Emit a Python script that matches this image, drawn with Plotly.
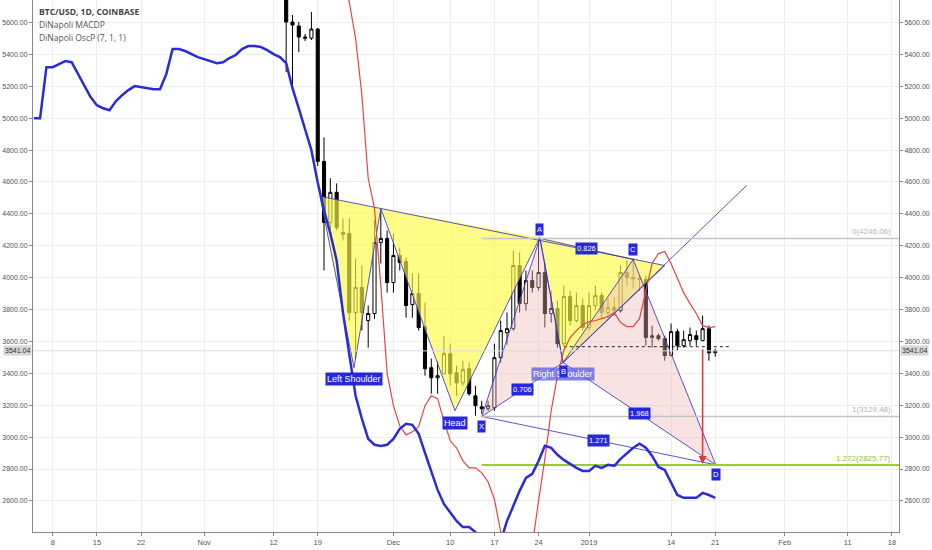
import pandas as pd
import plotly.graph_objects as go

# ---------------- data ----------------
candle_dates = pd.date_range("2018-11-14", "2019-01-21", freq="D")
opens = [6340, 5603, 5578, 5509, 5502, 5559, 4729, 4346, 4535, 4271, 4277, 3781, 3938, 3731, 3775, 4221, 4246,
         3969, 4139, 4101, 3831, 3900, 3693, 3435, 3372, 3397, 3523, 3404, 3341, 3429, 3259, 3190, 3178, 3184, 3498,
         3655, 3680, 4076, 3837, 3982, 3938, 4032, 3775, 3806, 3586, 3881, 3730, 3825,
         3687, 3825, 3888, 3781, 3812, 3793, 4032, 4001, 3995, 3988, 3624, 3636, 3617, 3511, 3661, 3573, 3605, 3636,
         3605, 3680, 3529]
highs = [6360, 5647, 5603, 5528, 5666, 5565, 4880, 4623, 4591, 4371, 4371, 4120, 4076, 3825, 4359, 4422, 4296,
         4277, 4189, 4126, 4026, 4026, 3844, 3492, 3479, 3636, 3586, 3448, 3479, 3467, 3322, 3228, 3228, 3586, 3731,
         3781, 4170, 4158, 4045, 4045, 4252, 4095, 3919, 3856, 3950, 3919, 3906, 3869,
         3906, 3950, 3906, 3869, 3875, 4076, 4108, 4120, 4013, 4013, 3699, 3649, 3636, 3712, 3680, 3668, 3687, 3668,
         3762, 3700, 3555]
lows = [5289, 5194, 5414, 5484, 5490, 4700, 4045, 4300, 4296, 4233, 3731, 3492, 3668, 3561, 3740, 4089, 3906,
        3906, 4045, 3749, 3749, 3668, 3385, 3272, 3272, 3397, 3322, 3259, 3322, 3259, 3134, 3146, 3165, 3165, 3467,
        3580, 3668, 3781, 3793, 3906, 3919, 3687, 3718, 3561, 3573, 3699, 3718, 3668,
        3668, 3793, 3743, 3743, 3762, 3781, 3950, 3938, 3919, 3573, 3561, 3605, 3479, 3511, 3542, 3561, 3573, 3573,
        3605, 3479, 3504]
closes = [5603, 5584, 5509, 5502, 5559, 4729, 4346, 4535, 4315, 4283, 3781, 3938, 3781, 3775, 4221, 4246, 3969,
          4139, 4095, 3825, 3900, 3687, 3429, 3372, 3385, 3523, 3397, 3341, 3423, 3272, 3197, 3178, 3197, 3498, 3668,
          3680, 4076, 3837, 3982, 3938, 4032, 3775, 3806, 3586, 3881, 3730, 3825, 3687,
          3825, 3888, 3781, 3812, 3793, 4032, 4001, 3995, 3988, 3624, 3636, 3617, 3511, 3661, 3573, 3611, 3643, 3611,
          3680, 3529, 3541]

osc_dates = pd.date_range("2018-10-05", "2019-01-21", freq="D")
osc_values = [5000, 5000, 5320, 5320, 5339, 5358, 5351, 5276, 5201, 5132, 5081, 5062, 5050, 5106, 5144, 5176, 5201,
              5194, 5188, 5182, 5182, 5276, 5433, 5433, 5421, 5402, 5383,
              5370, 5358, 5345, 5351, 5377, 5396, 5433, 5452, 5452, 5446, 5427, 5402, 5383, 5345, 5188, 5062, 4937,
              4799, 4597, 4422, 4277, 4108, 3781, 3511, 3259, 3115, 2989, 2952, 2945, 2952,
              2989, 3052, 3083, 3077, 3021, 2901, 2788, 2669, 2581, 2524, 2474, 2436, 2436, 2405, 2330, 2260, 2220,
              2348, 2474, 2568, 2663, 2744, 2770, 2850, 2945, 2933, 2889, 2857, 2832, 2807, 2788,
              2788, 2820, 2807, 2826, 2820, 2864, 2901, 2933, 2958, 2933, 2882, 2813, 2794, 2713, 2637, 2619, 2619,
              2619, 2650, 2637, 2619]

macd_dates = pd.date_range("2018-11-23", "2019-01-21", freq="D")
macd_values = [5867, 5728, 5502, 5144, 4623, 4434, 3950, 3400,
               3197, 3071, 3014, 3033, 3065, 3197, 3259, 3241, 3102, 2977, 2933, 2851, 2807, 2807, 2776, 2719, 2612,
               2411, 2200, 2050, 2000, 2100, 2320, 2600, 2864, 3165, 3385, 3542, 3624, 3668, 3705,
               3724, 3731, 3743, 3756, 3781, 3718, 3693, 3693, 3743, 3919, 4089, 4151, 4164, 4089, 4001, 3906, 3837,
               3775, 3699, 3687, 3693]

# head & shoulders pattern points
hs_names = ["start", "Left Shoulder", "peak1", "Head", "peak2", "Right Shoulder", "end"]
hs_dates = ["2018-11-19 09:00", "2018-11-24 18:00", "2018-11-29 00:00", "2018-12-10 18:00",
            "2018-12-24 05:00", "2018-12-27 21:00", "2019-01-13 00:00"]
hs_values = [4510, 3435, 4434, 3165, 4252, 3467, 4076]

# XABCD pattern points
xabcd_names = ["X", "A", "B", "C", "D"]
xabcd_dates = ["2018-12-15 00:00", "2018-12-24 05:00", "2018-12-27 21:00", "2019-01-08 00:00", "2019-01-21 02:00"]
xabcd_values = [3129.48, 4246.06, 3467, 4114, 2825.77]
ratio_labels = ["0.706", "0.826", "1.968", "1.271"]

fib_levels = [4246.06, 3129.48, 2825.77]
fib_labels = ["0(4246.06)", "1(3129.48)", "1.272(2825.77)"]

ray_dates = ["2018-12-27 21:00", "2019-01-26 00:00"]
ray_values = [3467, 4579]
dotted_dates = ["2018-12-28 00:00", "2019-01-23 12:00"]
dotted_value = 3567
arrow_date = "2019-01-19 00:00"
arrow_values = [3560, 2832]
last_price = 3541.04

x_tick_dates = ["2018-10-08", "2018-10-15", "2018-10-22", "2018-11-01", "2018-11-12", "2018-11-19", "2018-12-01",
                "2018-12-10", "2018-12-17", "2018-12-24", "2019-01-01", "2019-01-14", "2019-01-21", "2019-02-01",
                "2019-02-11", "2019-02-18"]
x_tick_text = ["8", "15", "22", "Nov", "12", "19", "Dec", "10", "17", "24", "2019", "14", "21", "Feb", "11", "18"]

x_range = ["2018-10-04 21:00", "2019-02-19 03:00"]
y_range = [2405, 5741]

# ---------------- figure ----------------
BLUE = "#2b2bd8"
PATTERN_LINE = "rgba(55,55,200,0.85)"
YELLOW = "rgba(250,250,70,0.65)"
PINK = "rgba(236,180,180,0.38)"
FONT = "Liberation Sans, Arial, sans-serif"

fig = go.Figure()

# yellow H&S triangles
for tri in ([0, 1, 2], [2, 3, 4], [4, 5, 6]):
    fig.add_trace(go.Scatter(
        x=[hs_dates[i] for i in tri] + [hs_dates[tri[0]]],
        y=[hs_values[i] for i in tri] + [hs_values[tri[0]]],
        mode="none", fill="toself", fillcolor=YELLOW, hoverinfo="skip", showlegend=False))

# pink XABCD triangles
for tri in ([0, 1, 2], [2, 3, 4]):
    fig.add_trace(go.Scatter(
        x=[xabcd_dates[i] for i in tri] + [xabcd_dates[tri[0]]],
        y=[xabcd_values[i] for i in tri] + [xabcd_values[tri[0]]],
        mode="none", fill="toself", fillcolor=PINK, hoverinfo="skip", showlegend=False))

# H&S zigzag + neckline
fig.add_trace(go.Scatter(x=hs_dates, y=hs_values, mode="lines",
                         line=dict(color=PATTERN_LINE, width=1), hoverinfo="skip", showlegend=False))
fig.add_trace(go.Scatter(x=[hs_dates[0], hs_dates[-1]], y=[hs_values[0], hs_values[-1]], mode="lines",
                         line=dict(color=PATTERN_LINE, width=1), hoverinfo="skip", showlegend=False))

# XABCD legs
legs = [(0, 1), (1, 2), (2, 3), (3, 4), (0, 2), (1, 3), (2, 4), (0, 4)]
for a, b in legs:
    fig.add_trace(go.Scatter(x=[xabcd_dates[a], xabcd_dates[b]], y=[xabcd_values[a], xabcd_values[b]],
                             mode="lines", line=dict(color=PATTERN_LINE, width=1),
                             hoverinfo="skip", showlegend=False))

# ray line
fig.add_trace(go.Scatter(x=ray_dates, y=ray_values, mode="lines",
                         line=dict(color=PATTERN_LINE, width=1), hoverinfo="skip", showlegend=False))

# fib levels
fib_colors = ["#c4c4cc", "#c4c4cc", "#9acd32"]
fib_widths = [1.5, 1.5, 2]
for lvl, col, w in zip(fib_levels, fib_colors, fib_widths):
    fig.add_trace(go.Scatter(x=[xabcd_dates[0], x_range[1]], y=[lvl, lvl], mode="lines",
                             line=dict(color=col, width=w), hoverinfo="skip", showlegend=False))

# last price line
fig.add_trace(go.Scatter(x=x_range, y=[last_price, last_price], mode="lines",
                         line=dict(color="#dcdcdc", width=1), hoverinfo="skip", showlegend=False))

# dotted line
fig.add_trace(go.Scatter(x=dotted_dates, y=[dotted_value, dotted_value], mode="lines",
                         line=dict(color="#222222", width=1, dash="dot"), hoverinfo="skip", showlegend=False))

# candles
fig.add_trace(go.Candlestick(
    x=candle_dates, open=opens, high=highs, low=lows, close=closes,
    increasing=dict(line=dict(color="#000000", width=1), fillcolor="#ffffff"),
    decreasing=dict(line=dict(color="#000000", width=1), fillcolor="#000000"),
    whiskerwidth=0, showlegend=False, hoverinfo="skip"))

# indicators
fig.add_trace(go.Scatter(x=macd_dates, y=macd_values, mode="lines",
                         line=dict(color="#e84545", width=1.2), hoverinfo="skip", showlegend=False))
fig.add_trace(go.Scatter(x=osc_dates, y=osc_values, mode="lines",
                         line=dict(color=BLUE, width=2.5), hoverinfo="skip", showlegend=False))

# dummy trace for left axis
fig.add_trace(go.Scatter(x=[candle_dates[0]], y=[last_price], yaxis="y2", mode="markers",
                         marker=dict(opacity=0), hoverinfo="skip", showlegend=False))

# ---------------- annotations ----------------
ann = []


def tag(x, y, text, yshift, bg="#2727dc", size=8):
    ann.append(dict(x=x, y=y, xref="x", yref="y", text=text, showarrow=False, yshift=yshift,
                    font=dict(family=FONT, size=size, color="#ffffff"), bgcolor=bg, borderpad=1))


tag(hs_dates[1], hs_values[1], "Left Shoulder", -11, size=9)
tag(hs_dates[3], hs_values[3], "Head", -12, size=9)
tag(hs_dates[5], hs_values[5], "Right Shoulder", -11, bg="rgba(95,95,225,0.78)", size=9)

letter_shift = {"X": -10, "A": 9, "B": -9, "C": 10, "D": -10}
for n, d, v in zip(xabcd_names, xabcd_dates, xabcd_values):
    tag(d, v, n, letter_shift[n], size=7.5)

ratio_legs = [(0, 2), (1, 3), (2, 4), (0, 4)]
for (a, b), txt in zip(ratio_legs, ratio_labels):
    ta, tb = pd.Timestamp(xabcd_dates[a]), pd.Timestamp(xabcd_dates[b])
    mid = ta + (tb - ta) / 2
    tag(mid, (xabcd_values[a] + xabcd_values[b]) / 2, txt, 0, size=7.5)

for lvl, txt, col in zip(fib_levels, fib_labels, ["#b4b4c4", "#b4b4c4", "#8cc43a"]):
    ann.append(dict(x=0.993, xref="paper", y=lvl, yref="y", text=txt, showarrow=False, xanchor="right",
                    yanchor="bottom", yshift=0, font=dict(family=FONT, size=8, color=col)))

# red arrow
ann.append(dict(x=arrow_date, y=arrow_values[1], ax=arrow_date, ay=arrow_values[0], xref="x", yref="y",
                axref="x", ayref="y", showarrow=True, arrowhead=2, arrowsize=1, arrowwidth=1.6,
                arrowcolor="#e53935", text=""))

# last price tags
for xp, xa, xs in ((1, "left", 1), (0, "right", -1)):
    ann.append(dict(x=xp, xref="paper", y=last_price, yref="y", text=f"{last_price:.2f}", showarrow=False,
                    xanchor=xa, xshift=xs, font=dict(family=FONT, size=7, color="#333333"),
                    bgcolor="#d6d6d6", borderpad=1))

# header texts
header = [("<b>BTC/USD, 1D, COINBASE</b>", "#444444"), ("DiNapoli MACDP", "#555555"),
          ("DiNapoli OscP (7, 1, 1)", "#555555")]
for i, (txt, col) in enumerate(header):
    ann.append(dict(x=0, xref="paper", y=1, yref="paper", xanchor="left", yanchor="top", xshift=4,
                    yshift=-4 - 13 * i, text=txt, showarrow=False,
                    font=dict(family="Open Sans, sans-serif", size=8.5, color=col)))

axis_common = dict(range=y_range, tick0=0, dtick=200, tickformat=".2f", ticks="outside", ticklen=3,
                   tickcolor="#888888", showline=True, linecolor="#888888", linewidth=1,
                   tickfont=dict(family=FONT, size=7, color="#555555"), zeroline=False, fixedrange=True,
                   automargin=False)

fig.update_layout(
    width=932, height=550,
    margin=dict(l=33, r=33, t=0, b=18, autoexpand=False),
    paper_bgcolor="#ffffff", plot_bgcolor="#ffffff",
    showlegend=False,
    xaxis=dict(type="date", range=x_range, tickvals=x_tick_dates, ticktext=x_tick_text,
               showgrid=True, gridcolor="#ededed", ticks="outside", ticklen=3, tickcolor="#888888",
               showline=True, linecolor="#888888", linewidth=1, rangeslider=dict(visible=False),
               tickfont=dict(family=FONT, size=7.5, color="#555555"), zeroline=False, automargin=False),
    yaxis=dict(side="right", showgrid=True, gridcolor="#ededed", **axis_common),
    yaxis2=dict(side="left", overlaying="y", showgrid=False, **axis_common),
    annotations=ann,
    boxgap=0.3,
)

fig.write_html("out.html", config={"displayModeBar": False},
               post_script="document.body.style.margin='0';document.body.style.padding='0';")
